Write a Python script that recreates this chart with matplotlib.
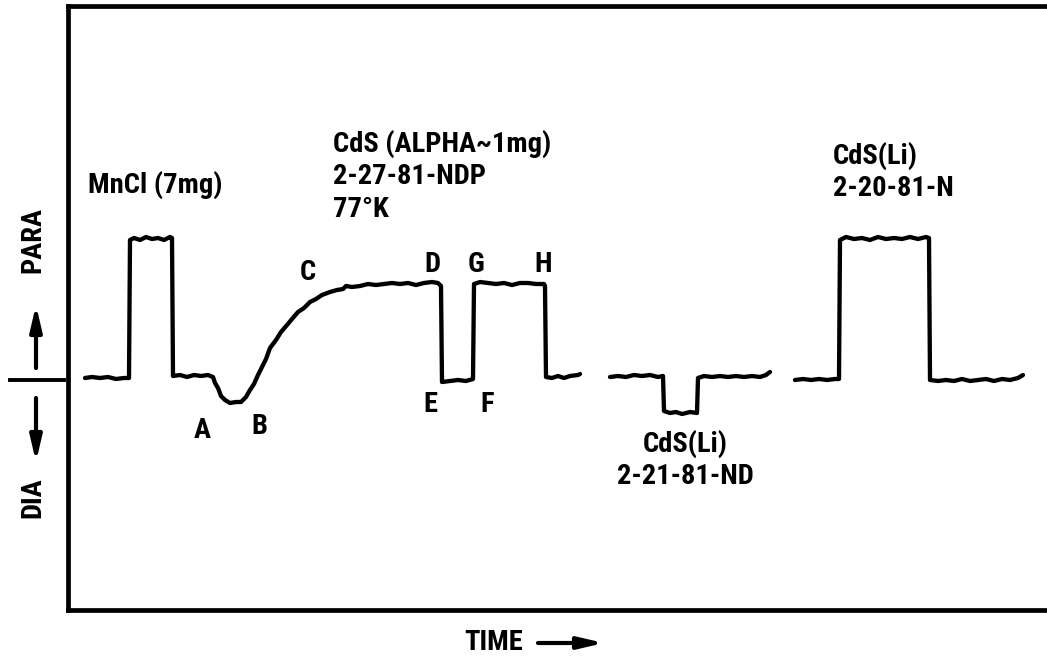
import matplotlib
matplotlib.use("Agg")
from matplotlib import pyplot as plt
from matplotlib import font_manager

# 记录曲线（横轴：时间，纵轴：信号，0 为基线）
t1 = [85, 92, 100, 108, 116, 124, 129, 130, 134, 140, 146, 152, 158, 164, 170, 172,
      173, 180, 187, 194, 201, 208, 213, 215, 218, 221, 225, 230, 236, 241, 246, 250,
      254, 258, 262, 266, 270, 276, 281, 287, 292, 298, 304, 310, 316, 322, 330, 337,
      343, 346, 352, 360, 368, 376, 384, 392, 400, 408, 416, 424, 432, 438, 441,
      442, 450, 458, 466, 473,
      474, 480, 488, 496, 504, 512, 520, 528, 536, 544, 545,
      546, 552, 558, 564, 570, 578, 580]
s1 = [0, 1, 0, 1, -1, 0, 0, 138, 140, 138, 141, 139, 140, 138, 141, 140,
      2, 3, 1, 3, 2, 3, 1, -5, -10, -18, -22, -25, -24, -24, -19, -12,
      -6, 3, 11, 19, 30, 38, 46, 53, 59, 66, 70, 76, 79, 83, 86, 88,
      89, 92, 91, 92, 94, 93, 94, 95, 94, 95, 93, 95, 96, 95, 92,
      -4, -3, -2, -3, -1,
      94, 96, 95, 94, 95, 93, 95, 95, 94, 94, 92,
      1, 0, 2, 0, 2, 3, 4]

t2 = [610, 618, 626, 634, 642, 650, 658, 663, 664, 670, 676, 682, 690, 697,
      698, 704, 712, 720, 728, 736, 744, 752, 760, 766, 770]
s2 = [1, 2, 1, 3, 2, 3, 1, 2, -33, -35, -34, -36, -34, -35,
      0, 2, 1, 2, 1, 2, 1, 2, 1, 3, 6]

t3 = [795, 803, 811, 819, 827, 835, 839, 840, 846, 854, 862, 870, 878, 886, 894,
      902, 910, 918, 926, 929, 930, 938, 946, 954, 962, 970, 978, 986, 994, 1002,
      1010, 1018, 1023]
s3 = [-2, -1, -2, -1, -2, -1, -1, 138, 141, 139, 140, 138, 141, 139, 140,
      139, 141, 139, 141, 140, -2, -3, -2, -3, -1, -3, -2, -1, -3, -1,
      -2, 0, 3]

# 点标记
marks = ['A', 'B', 'C', 'D', 'E', 'F', 'G', 'H']
mark_t = [202, 259, 308, 432, 430, 487, 476, 543]
mark_s = [-52, -48, 106, 113, -27, -27, 113, 113]

W, H = 1047, 666

# 找一个窄体字体
names = {f.name for f in font_manager.fontManager.ttflist}
narrow = [n for n in ['Liberation Sans Narrow', 'Roboto Condensed', 'Open Sans Condensed',
                      'Noto Sans Display', 'DejaVu Sans'] if n in names]
plt.rcParams['font.family'] = narrow + ['DejaVu Sans']
plt.rcParams['font.weight'] = 'black'
plt.rcParams['font.stretch'] = 'condensed'
fs = 20.5

fig = plt.figure(figsize=(W / 100, H / 100), dpi=100)
ax = fig.add_axes([68 / W, 1 - 610 / H, 1 - 68 / W, (610 - 6) / H])
ax.set_xlim(68, 1047)
ax.set_ylim(-232, 372)
for sp in ['left', 'top', 'bottom']:
    ax.spines[sp].set_linewidth(3.4)
ax.spines['right'].set_visible(False)
ax.set_xticks([])
ax.set_yticks([])

for t, s in [(t1, s1), (t2, s2), (t3, s3)]:
    ax.plot(t, s, color='black', lw=3.1, solid_joinstyle='round', solid_capstyle='round')

for m, x, y in zip(marks, mark_t, mark_s):
    ax.text(x, y, m, ha='center', va='center', fontsize=fs)

ax.text(88, 193, 'MnCl (7mg)', ha='left', va='center', fontsize=fs)
ax.text(333, 248, 'CdS (ALPHA~1mg)\n2-27-81-NDP\n77°K', ha='left', va='top',
        fontsize=fs, linespacing=1.25)
ax.text(833, 236, 'CdS(Li)\n2-20-81-N', ha='left', va='top', fontsize=fs, linespacing=1.25)
ax.text(685, -52, 'CdS(Li)\n2-21-81-ND', ha='center', va='top', fontsize=fs,
        linespacing=1.25, multialignment='center')


def P(x, y):
    return (x / W, 1 - y / H)


# 纵轴说明
fig.text(*P(33, 240), 'PARA', rotation=90, ha='center', va='center', fontsize=fs)
fig.text(*P(33, 498), 'DIA', rotation=90, ha='center', va='center', fontsize=fs)
arrow = dict(arrowstyle='-|>,head_length=1.5,head_width=0.35', lw=3, color='black',
             shrinkA=0, shrinkB=0)
ax.annotate('', xy=P(36, 305), xytext=P(36, 368), xycoords='figure fraction',
            textcoords='figure fraction', arrowprops=arrow, annotation_clip=False)
ax.annotate('', xy=P(36, 462), xytext=P(36, 398), xycoords='figure fraction',
            textcoords='figure fraction', arrowprops=arrow, annotation_clip=False)
fig.add_artist(plt.Line2D([10 / W, 64 / W], [1 - 380 / H, 1 - 380 / H], color='black', lw=2.8))

# 横轴说明
fig.text(*P(494, 643), 'TIME', ha='center', va='center', fontsize=fs)
ax.annotate('', xy=P(604, 643), xytext=P(538, 643), xycoords='figure fraction',
            textcoords='figure fraction', arrowprops=arrow, annotation_clip=False)

fig.savefig('out.png', dpi=100)
